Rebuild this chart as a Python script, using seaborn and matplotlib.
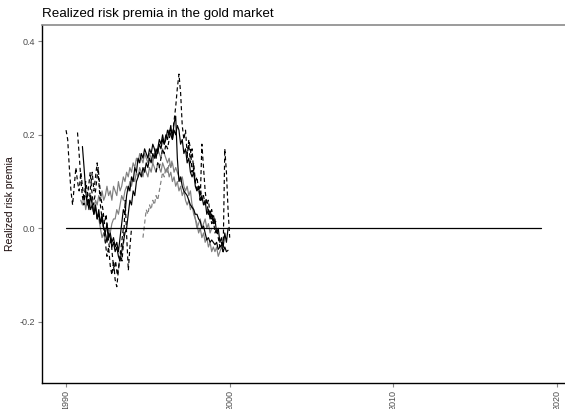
import numpy as np
import pandas as pd
import matplotlib
matplotlib.use("Agg")
import matplotlib.pyplot as plt
import seaborn as sns

# ---- data ----
title = "Realized risk premia in the gold market"
ylabel = "Realized risk premia"
xticks = [1990, 2000, 2010, 2020]
yticks = [-0.2, 0.0, 0.2, 0.4]

# each series: (start year, end year), values at regular steps in between
d1_span = (1990.0, 1993.5)
d1_vals = [0.21, 0.19, 0.13, 0.08, 0.05, 0.09, 0.13, 0.10, 0.08, 0.12, 0.09, 0.06, 0.10, 0.08, 0.05,
           0.09, 0.12, 0.08, 0.11, 0.14, 0.10, 0.05, 0.02, 0.00, -0.03, -0.06, -0.04, -0.08, -0.10,
           -0.07, -0.11, -0.125, -0.09, -0.06, -0.03, 0.00]

d2_span = (1990.7, 1994.0)
d2_vals = [0.205, 0.16, 0.11, 0.07, 0.05, 0.08, 0.06, 0.09, 0.12, 0.08, 0.05, 0.07, 0.10, 0.13, 0.09,
           0.06, 0.04, 0.01, 0.03, -0.01, -0.04, -0.02, -0.06, -0.09, -0.07, -0.10, -0.08, -0.05,
           -0.07, -0.03, 0.06, -0.02, -0.09, -0.04, 0.00]

s3_span = (1991.0, 1999.9)
s3_vals = [0.175, 0.13, 0.08, 0.05, 0.06, 0.04, 0.05, 0.03, 0.045, 0.02,
           0.03, 0.01, 0.02, 0.00, -0.01, 0.01, -0.02, -0.01, -0.03, -0.02,
           -0.04, -0.03, -0.05, -0.02, 0.01, 0.04, 0.03, 0.07, 0.09, 0.08,
           0.11, 0.10, 0.13, 0.12, 0.15, 0.14, 0.16, 0.15, 0.17, 0.16,
           0.15, 0.17, 0.16, 0.18, 0.17, 0.15, 0.17, 0.19, 0.18, 0.20,
           0.18, 0.19, 0.21, 0.20, 0.22, 0.19, 0.225, 0.24, 0.15, 0.10,
           0.11, 0.09, 0.08, 0.075, 0.07, 0.06, 0.05, 0.045, 0.04, 0.03,
           0.03, 0.02, 0.015, 0.00, 0.005, -0.01, -0.025, -0.02, -0.03, -0.025,
           -0.03, -0.035, -0.03, -0.045, -0.04, -0.035, -0.05, -0.04, -0.05, -0.047]

s4_span = (1991.3, 1999.9)
s4_vals = [0.06, 0.04, 0.07, 0.05, 0.03, 0.05, 0.02,
           0.04, 0.01, 0.03, 0.00, -0.01, -0.03, -0.01, -0.02, -0.04, -0.03,
           -0.05, -0.04, -0.06, -0.07, -0.05, -0.03, -0.01, 0.00, 0.03, 0.06,
           0.05, 0.08, 0.07, 0.10, 0.11, 0.12, 0.11, 0.13, 0.12, 0.14,
           0.13, 0.15, 0.14, 0.16, 0.15, 0.17, 0.16, 0.18, 0.17, 0.19,
           0.18, 0.20, 0.19, 0.21, 0.20, 0.19, 0.21, 0.20, 0.22, 0.21,
           0.18, 0.19, 0.16, 0.17, 0.14, 0.15, 0.12, 0.11, 0.12, 0.09,
           0.08, 0.09, 0.06, 0.07, 0.05, 0.06, 0.03, 0.04, 0.02, 0.03,
           0.01, 0.02, -0.01, 0.00, -0.03, -0.02, -0.04, -0.01, -0.03, 0.00]

g1_span = (1990.9, 1998.9)
g1_vals = [0.06,
           0.05, 0.07, 0.04, 0.06, 0.05, 0.07, 0.06, 0.04, 0.06, 0.05,
           0.07, 0.06, 0.08, 0.06, 0.07, 0.09, 0.07, 0.08, 0.06, 0.09,
           0.08, 0.07, 0.10, 0.08, 0.09, 0.11, 0.10, 0.12, 0.11, 0.13,
           0.12, 0.14, 0.13, 0.15, 0.14, 0.16, 0.15, 0.14, 0.16, 0.15,
           0.14, 0.16, 0.15, 0.14, 0.16, 0.15, 0.17, 0.16, 0.15, 0.17,
           0.16, 0.15, 0.14, 0.15, 0.13, 0.14, 0.12, 0.13, 0.12, 0.11,
           0.10, 0.11, 0.09, 0.08, 0.09, 0.07, 0.08, 0.05, 0.04, 0.02,
           0.00, 0.01, 0.02, 0.00, 0.01, 0.02, 0.00, 0.01, -0.01, 0.00]

g2_span = (1992.0, 1999.6)
g2_vals = [0.02, 0.00, -0.02, -0.01, -0.03, -0.02, 0.00, -0.01, 0.01, 0.02,
           0.02, 0.04, 0.03, 0.05, 0.07, 0.06, 0.08, 0.09, 0.08, 0.10,
           0.09, 0.11, 0.10, 0.12, 0.11, 0.13, 0.12, 0.11, 0.13, 0.12,
           0.11, 0.13, 0.12, 0.14, 0.13, 0.12, 0.14, 0.13, 0.12, 0.14,
           0.13, 0.12, 0.13, 0.11, 0.12, 0.10, 0.11, 0.09, 0.10, 0.08,
           0.09, 0.07, 0.08, 0.06, 0.05, 0.06, 0.04, 0.05, 0.03, 0.02,
           0.01, -0.01, 0.00, -0.02, -0.01, -0.03, -0.02, -0.04, -0.03, -0.05,
           -0.04, -0.05, -0.04, -0.06, -0.05, -0.04, -0.05]

gd1_span = (1994.7, 1996.5)
gd1_vals = [-0.02, 0.01, 0.04, 0.03, 0.05, 0.04, 0.06, 0.05, 0.07, 0.06, 0.08, 0.10, 0.12, 0.11,
            0.13, 0.12, 0.14, 0.13, 0.15]

d3_span = (1995.5, 1999.2)
d3_vals = [0.12, 0.14, 0.13, 0.15, 0.17,
           0.16, 0.18, 0.17, 0.19, 0.21, 0.20, 0.23, 0.26, 0.30, 0.33,
           0.29, 0.22, 0.19, 0.21, 0.16, 0.18, 0.14, 0.17, 0.12, 0.10,
           0.11, 0.08, 0.09, 0.06, 0.07, 0.05, 0.06, 0.03, 0.04, 0.02,
           0.03, 0.01, 0.02]

d4_span = (1997.4, 1999.0)
d4_vals = [0.15, 0.19, 0.17, 0.12, 0.14, 0.10, 0.08, 0.09, 0.06, 0.18, 0.13, 0.08, 0.05, 0.06,
           0.03, 0.04, 0.01]

d5_span = (1998.8, 2000.0)
d5_vals = [0.03, 0.01, 0.02, -0.01, 0.00, -0.02, -0.04, -0.03, -0.05, 0.17, 0.12, 0.04, -0.02]

zero_years = [1990.0, 2019.0]
zero_vals = [0.0, 0.0]

series = [
    ("g1", g1_span, g1_vals, "#808080", "-"),
    ("g2", g2_span, g2_vals, "#808080", "-"),
    ("gd1", gd1_span, gd1_vals, "#808080", "--"),
    ("s3", s3_span, s3_vals, "black", "-"),
    ("s4", s4_span, s4_vals, "black", "-"),
    ("d1", d1_span, d1_vals, "black", "--"),
    ("d2", d2_span, d2_vals, "black", "--"),
    ("d3", d3_span, d3_vals, "black", "--"),
    ("d4", d4_span, d4_vals, "black", "--"),
    ("d5", d5_span, d5_vals, "black", "--"),
]

sns.set_theme(style="white")
plt.rcParams["font.family"] = ["Liberation Sans", "DejaVu Sans"]

W, H = 565, 409
fig = plt.figure(figsize=(W / 100, H / 100), dpi=100)
left, right, top, bottom = 42, 565, 25, 383
ax = fig.add_axes([left / W, 1 - bottom / H, (right - left) / W, (bottom - top) / H])

for name, span, vals, col, ls in series:
    df = pd.DataFrame({"year": np.linspace(span[0], span[1], len(vals)), "rp": vals})
    dash = (0, (3.5, 2.5)) if ls == "--" else "-"
    sns.lineplot(data=df, x="year", y="rp", ax=ax, color=col, linewidth=0.85,
                 linestyle=dash, estimator=None, sort=False)

zdf = pd.DataFrame({"year": zero_years, "rp": zero_vals})
sns.lineplot(data=zdf, x="year", y="rp", ax=ax, color="black", linewidth=0.9, estimator=None)

ax.set_xlim(1988.53, 2020.49)
ax.set_ylim(-0.331, 0.435)
ax.set_xticks(xticks)
ax.set_xticklabels([str(t) for t in xticks], rotation=90, fontsize=6.5, color="#4D4D4D")
ax.set_yticks(yticks)
ax.set_yticklabels([f"{t:.1f}" for t in yticks], fontsize=6.5, color="#4D4D4D")
ax.tick_params(axis="both", direction="out", length=3, width=0.8, color="#888888", pad=2, bottom=True, left=True)

ax.set_xlabel("")
ax.set_ylabel(ylabel, fontsize=7.5, color="#1a0a0a", labelpad=3)
ax.set_title(title, fontsize=9.6, loc="left", pad=6, color="black")

for s in ["left", "bottom"]:
    ax.spines[s].set_color("black")
    ax.spines[s].set_linewidth(1.0)
ax.spines["top"].set_color("#8a8a8a")
ax.spines["top"].set_linewidth(1.2)
ax.spines["right"].set_visible(False)
ax.grid(False)

fig.savefig("out.png", dpi=100)
